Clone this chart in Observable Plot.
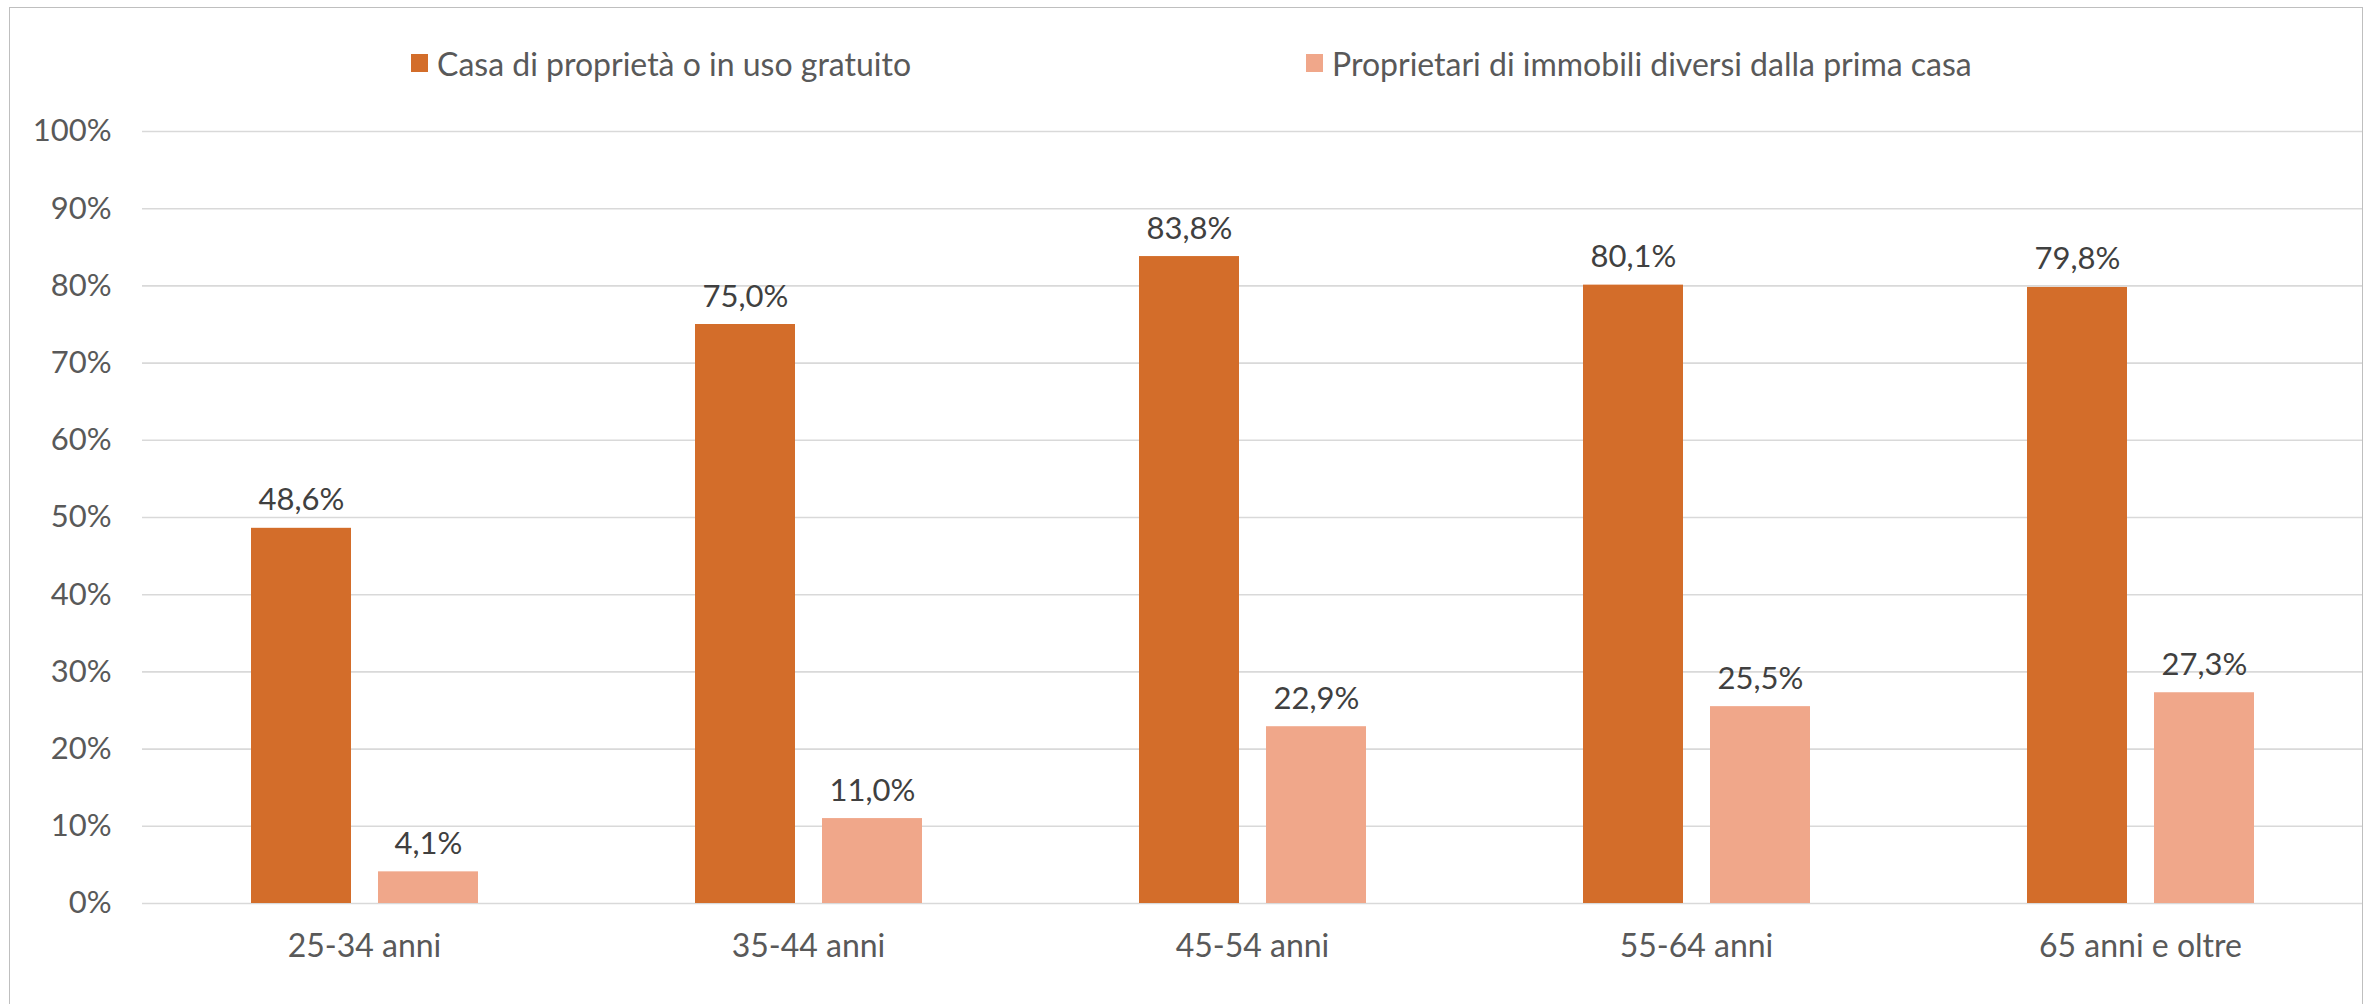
<!DOCTYPE html>
<html>
<head>
<meta charset="utf-8">
<script src="https://cdn.jsdelivr.net/npm/d3@7"></script>
<script src="https://cdn.jsdelivr.net/npm/@observablehq/plot@0.6"></script>
<style>
  html, body { margin: 0; padding: 0; background: #fff; }
  body { width: 2374px; height: 1004px; overflow: hidden; position: relative; font-family: Lato, "Open Sans", sans-serif; }
  #frame { position: absolute; left: 9px; top: 7px; width: 2354px; height: 1020px; border: 1.5px solid #BFBFBF; box-sizing: border-box; }
  .legend-item { position: absolute; top: 44px; height: 38px; display: flex; align-items: center; font-size: 32px; color: #595959; white-space: nowrap; }
  .legend-item .swatch { width: 17px; height: 18px; margin-right: 9px; flex: none; }
  #chart { position: absolute; left: 0; top: 90px; }
</style>
</head>
<body>
<div id="frame"></div>
<div id="legend"></div>
<div id="chart"></div>
<script>
// Age brackets on the horizontal axis
const ageGroups = ["25-34 anni", "35-44 anni", "45-54 anni", "55-64 anni", "65 anni e oltre"];
// Series names
const seriesNames = ["Casa di proprietà o in uso gratuito", "Proprietari di immobili diversi dalla prima casa"];
// Share of households (%) per age bracket
const casaPropria = [48.6, 75.0, 83.8, 80.1, 79.8];
const altriImmobili = [4.1, 11.0, 22.9, 25.5, 27.3];
// Y axis ticks (%)
const yTicks = [0, 10, 20, 30, 40, 50, 60, 70, 80, 90, 100];
const seriesColors = ["#D36D2A", "#F0A78A"];

const rows = [];
ageGroups.forEach((age, i) => {
  rows.push({age, series: seriesNames[0], value: casaPropria[i]});
  rows.push({age, series: seriesNames[1], value: altriImmobili[i]});
});

// Legend entries
const legendLeft = [411, 1306];
const legend = document.getElementById("legend");
seriesNames.forEach((name, i) => {
  const item = document.createElement("div");
  item.className = "legend-item";
  item.style.left = legendLeft[i] + "px";
  const sw = document.createElement("span");
  sw.className = "swatch";
  sw.style.background = seriesColors[i];
  const label = document.createElement("span");
  label.textContent = name;
  item.append(sw, label);
  legend.append(item);
});

const fmt = v => v.toFixed(1).replace(".", ",") + "%";

const chart = Plot.plot({
  width: 2374,
  height: 914,
  marginLeft: 142,
  marginRight: 12,
  marginTop: 41,
  marginBottom: 101,
  style: {fontFamily: "Lato, 'Open Sans', sans-serif", fontSize: "31px", color: "#595959", background: "transparent"},
  fx: {domain: ageGroups, padding: 0, label: null},
  x: {domain: seriesNames, paddingInner: 0.2126, paddingOuter: 0.854, axis: null},
  y: {domain: [0, 100], label: null},
  color: {domain: seriesNames, range: seriesColors},
  marks: [
    Plot.gridY(yTicks, {stroke: "#D9D9D9", strokeOpacity: 1, strokeWidth: 1.6}),
    Plot.axisY(yTicks, {tickSize: 0, tickPadding: 31, tickFormat: d => d + "%", label: null, fill: "#595959"}),
    Plot.axisFx({anchor: "bottom", tickSize: 0, tickPadding: 31, label: null, fill: "#595959", fontSize: 32}),
    Plot.barY(rows, {fx: "age", x: "series", y: "value", fill: "series"}),
    Plot.text(rows, {fx: "age", x: "series", y: "value", text: d => fmt(d.value), lineAnchor: "bottom", dy: -18, fill: "#404040", fontSize: 31})
  ]
});
document.getElementById("chart").append(chart);
</script>
</body>
</html>
